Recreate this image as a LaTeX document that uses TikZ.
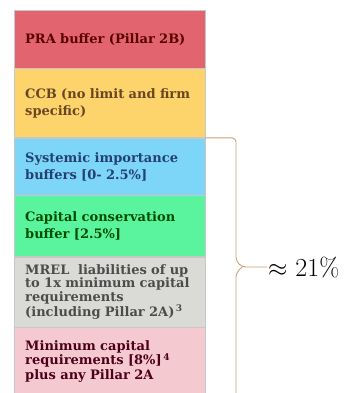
\documentclass[tikz,border=0pt]{standalone}
\usepackage{fontspec}
\newfontfamily\boxfont{DejaVu Serif}
\usepackage{tikz}
\usetikzlibrary{positioning}

\definecolor{praRed}{HTML}{E2646E}
\definecolor{ccbYellow}{HTML}{FDD36B}
\definecolor{sysBlue}{HTML}{7DD6F8}
\definecolor{consGreen}{HTML}{5BF49E}
\definecolor{mrelGrey}{HTML}{DADAD7}
\definecolor{minPink}{HTML}{F5C9D0}
\definecolor{braceTan}{HTML}{C9A07E}
\definecolor{sysText}{HTML}{23406E}

\begin{document}
\begin{tikzpicture}[x=1pt,y=-1pt,node distance=0pt,
    layer/.style={draw=black!22,line width=0.4pt,
        inner xsep=11pt,inner ysep=2pt,text width=169pt,align=left,
        font=\boxfont\bfseries\fontsize{13}{17}\selectfont},
    brace/.style={draw=braceTan,line width=0.9pt}]

    \useasboundingbox (0,0) rectangle (354,393);

    \node[layer,anchor=north west,fill=praRed,text=red!35!black,minimum height=58pt] (pra) at (14,10)
        {PRA buffer (Pillar 2B)};
    \node[layer,fill=ccbYellow,text=brown!55!black,minimum height=69pt] (ccb) [below=of pra]
        {CCB (no limit and firm\\specific)};
    \node[layer,fill=sysBlue,text=sysText,minimum height=57pt] (sys) [below=of ccb]
        {Systemic importance\\buffers [0- 2.5\%]};
    \node[layer,fill=consGreen,text=green!30!black,minimum height=61pt] (cons) [below=of sys]
        {Capital conservation\\buffer [2.5\%]};
    \node[layer,fill=mrelGrey,text=black!70,minimum height=70pt,
          font=\boxfont\bfseries\fontsize{13}{13.6}\selectfont] (mrel) [below=of cons]
        {MREL\ \ liabilities of up\\to 1x minimum capital\\requirements\\(including Pillar 2A)\textsuperscript{\,3}};
    \node[layer,fill=minPink,text=purple!40!black,minimum height=68pt,
          font=\boxfont\bfseries\fontsize{13}{14.6}\selectfont] (min) [below=of mrel]
        {Minimum capital\\requirements [8\%]\textsuperscript{\,4}\\plus any Pillar 2A};

    % brace over the lower four layers
    \coordinate (tip) at (267,267);
    \draw[brace,rounded corners=4pt] (sys.north east) -| (236,261) -- (242,267) -- (tip);
    \draw[brace,rounded corners=4pt] (242,267) -- (236,273) -- (236,393);

    \node[anchor=west,inner sep=1pt,font=\fontsize{26}{30}\selectfont] (total) at (tip)
        {$\approx$ 21\%};

\end{tikzpicture}
\end{document}
